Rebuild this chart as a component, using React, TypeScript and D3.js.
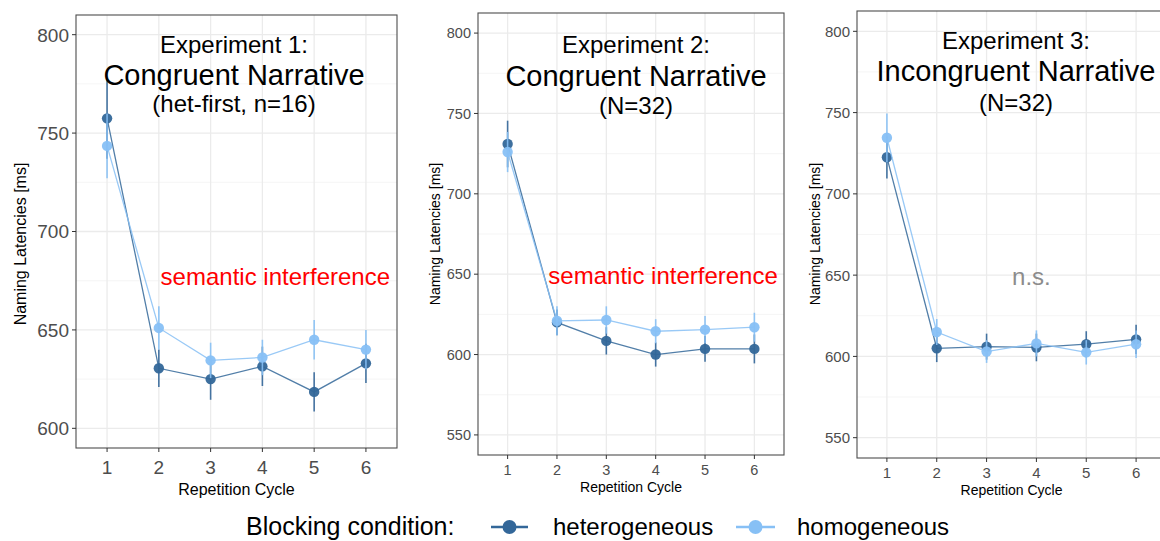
import React from 'react';
import * as d3 from 'd3';

// repetition cycles (x axis)
const cycles = [1, 2, 3, 4, 5, 6];

// Experiment 1 (het-first, n=16)
const exp1Het = [757.5, 630.5, 625, 631.5, 618.5, 633];
const exp1HetSe = [20.5, 9.5, 10.5, 10, 10, 10];
const exp1Hom = [743.5, 651, 634.5, 636, 645, 640];
const exp1HomSe = [16.5, 11, 9, 9, 10, 10];

// Experiment 2 (N=32)
const exp2Het = [731, 620, 608.5, 600, 603.5, 603.5];
const exp2HetSe = [14.5, 8, 8.5, 7.5, 8, 9];
const exp2Hom = [726, 621, 621.5, 614.5, 615.5, 617];
const exp2HomSe = [12.5, 9, 8.5, 7.5, 8.5, 9];

// Experiment 3 (N=32)
const exp3Het = [722.5, 605, 606, 605.5, 607.5, 610.5];
const exp3HetSe = [13, 8.5, 8, 8.5, 8, 9];
const exp3Hom = [734.5, 615, 603, 608, 602.5, 607.5];
const exp3HomSe = [15, 8, 7, 8, 7.5, 8.5];

const ticks1 = [600, 650, 700, 750, 800];
const ticks23 = [550, 600, 650, 700, 750, 800];

const HET = '#336799';
const HOM = '#87c0f5';
const FONT = 'Arial, "Liberation Sans", Helvetica, sans-serif';

type Series = { values: number[]; se: number[]; color: string };

type PanelProps = {
  left: number; right: number; top: number; bottom: number;
  yDomain: [number, number];
  yTicks: number[];
  tickSize: number;
  titleSize: number;
  yTitleX: number;
  yTitleY: number;
  xTickBase: number;
  xTitleBase: number;
  title: string[];
  titleX: number;
  titleBases: number[];
  note: string;
  noteColor: string;
  noteX: number;
  noteY: number;
  series: Series[];
};

const Panel: React.FC<PanelProps> = (p) => {
  const x = d3.scaleLinear().domain([0.4, 6.6]).range([p.left, p.right]);
  const y = d3.scaleLinear().domain(p.yDomain).range([p.bottom, p.top]);
  const minor = p.yTicks.map((t) => t + 25).filter((t) => t < p.yDomain[1]);
  minor.unshift(p.yTicks[0] - 25);
  const line = d3.line<number>().x((_, i) => x(cycles[i])).y((d) => y(d));
  return (
    <g>
      <clipPath id={`clip${p.left}`}>
        <rect x={p.left} y={p.top} width={p.right - p.left} height={p.bottom - p.top} />
      </clipPath>
      <rect x={p.left} y={p.top} width={p.right - p.left} height={p.bottom - p.top} fill="#fff" />
      {minor.filter((t) => t > p.yDomain[0]).map((t) => (
        <line key={'m' + t} x1={p.left} x2={p.right} y1={y(t)} y2={y(t)} stroke="#f2f2f2" strokeWidth={0.8} />
      ))}
      {p.yTicks.map((t) => (
        <line key={'g' + t} x1={p.left} x2={p.right} y1={y(t)} y2={y(t)} stroke="#ebebeb" strokeWidth={1.3} />
      ))}
      {cycles.map((c) => (
        <line key={'v' + c} x1={x(c)} x2={x(c)} y1={p.top} y2={p.bottom} stroke="#ebebeb" strokeWidth={1.3} />
      ))}
      <g clipPath={`url(#clip${p.left})`}>
        {p.series.map((s, si) => (
          <g key={si}>
            <path d={line(s.values) || ''} fill="none" stroke={s.color} strokeWidth={1.3} opacity={0.85} />
            {s.values.map((v, i) => (
              <line key={'e' + i} x1={x(cycles[i])} x2={x(cycles[i])} y1={y(v - s.se[i])} y2={y(v + s.se[i])}
                stroke={s.color} strokeWidth={1.6} opacity={0.9} />
            ))}
            {s.values.map((v, i) => (
              <circle key={'p' + i} cx={x(cycles[i])} cy={y(v)} r={5.2} fill={s.color} opacity={0.95} />
            ))}
          </g>
        ))}
      </g>
      <rect x={p.left} y={p.top} width={p.right - p.left} height={p.bottom - p.top} fill="none" stroke="#4d4d4d" strokeWidth={1.1} />
      {p.yTicks.map((t) => (
        <g key={'yt' + t}>
          <line x1={p.left - 4} x2={p.left} y1={y(t)} y2={y(t)} stroke="#333" strokeWidth={1} />
          <text x={p.left - 7} y={y(t)} dy="0.36em" textAnchor="end" fontSize={p.tickSize} fill="#4d4d4d" fontFamily={FONT}>{t}</text>
        </g>
      ))}
      {cycles.map((c) => (
        <g key={'xt' + c}>
          <line x1={x(c)} x2={x(c)} y1={p.bottom} y2={p.bottom + 4} stroke="#333" strokeWidth={1} />
          <text x={x(c)} y={p.xTickBase} textAnchor="middle" fontSize={p.tickSize} fill="#4d4d4d" fontFamily={FONT}>{c}</text>
        </g>
      ))}
      <text x={(p.left + p.right) / 2} y={p.xTitleBase} textAnchor="middle" fontSize={p.titleSize} fill="#000" fontFamily={FONT}>Repetition Cycle</text>
      <text transform={`translate(${p.yTitleX},${p.yTitleY}) rotate(-90)`} textAnchor="middle" dy="0.35em" fontSize={p.titleSize} fill="#000" fontFamily={FONT}>Naming Latencies [ms]</text>
      {p.title.map((t, i) => (
        <text key={'t' + i} x={p.titleX} y={p.titleBases[i]} textAnchor="middle" fontSize={i === 1 ? 29 : 24} fill="#000" fontFamily={FONT}>{t}</text>
      ))}
      <text x={x(p.noteX)} y={y(p.noteY)} textAnchor="middle" fontSize={24} fill={p.noteColor} fontFamily={FONT}>{p.note}</text>
    </g>
  );
};

export default function App() {
  return (
    <svg width={1160} height={541} style={{ position: 'absolute', left: 0, top: 0, background: '#fff' }}>
      <rect width={1160} height={541} fill="#fff" />
      <Panel left={76} right={397} top={15} bottom={448} yDomain={[590, 810]} yTicks={ticks1}
        tickSize={19} titleSize={16} yTitleX={20} yTitleY={244} xTickBase={474} xTitleBase={495}
        title={['Experiment 1:', 'Congruent Narrative', '(het-first, n=16)']} titleX={234} titleBases={[53, 85, 112]}
        note="semantic interference" noteColor="#ff0000" noteX={4.25} noteY={673}
        series={[{ values: exp1Het, se: exp1HetSe, color: HET }, { values: exp1Hom, se: exp1HomSe, color: HOM }]} />
      <Panel left={478} right={784} top={13} bottom={455} yDomain={[537.5, 812.5]} yTicks={ticks23}
        tickSize={14.5} titleSize={14} yTitleX={435} yTitleY={234} xTickBase={475} xTitleBase={492}
        title={['Experiment 2:', 'Congruent Narrative', '(N=32)']} titleX={636} titleBases={[53, 86, 114]}
        note="semantic interference" noteColor="#ff0000" noteX={4.15} noteY={644}
        series={[{ values: exp2Het, se: exp2HetSe, color: HET }, { values: exp2Hom, se: exp2HomSe, color: HOM }]} />
      <Panel left={857} right={1166} top={11} bottom={458} yDomain={[537.5, 812.5]} yTicks={ticks23}
        tickSize={15} titleSize={14} yTitleX={815} yTitleY={234} xTickBase={478} xTitleBase={495}
        title={['Experiment 3:', 'Incongruent Narrative', '(N=32)']} titleX={1016} titleBases={[49, 81, 111]}
        note="n.s." noteColor="#8c8c8c" noteX={3.9} noteY={644}
        series={[{ values: exp3Het, se: exp3HetSe, color: HET }, { values: exp3Hom, se: exp3HomSe, color: HOM }]} />
      {/* legend */}
      <g fontFamily={FONT}>
        <text x={246} y={535} fontSize={25} fill="#000">Blocking condition:</text>
        <line x1={491} x2={528} y1={527} y2={527} stroke={HET} strokeWidth={2.5} />
        <circle cx={509.5} cy={527} r={7} fill={HET} />
        <text x={553} y={535} fontSize={24} fill="#000">heterogeneous</text>
        <line x1={736} x2={775} y1={527} y2={527} stroke={HOM} strokeWidth={2.5} />
        <circle cx={755.5} cy={527} r={7} fill={HOM} />
        <text x={797} y={535} fontSize={24} fill="#000">homogeneous</text>
      </g>
    </svg>
  );
}
